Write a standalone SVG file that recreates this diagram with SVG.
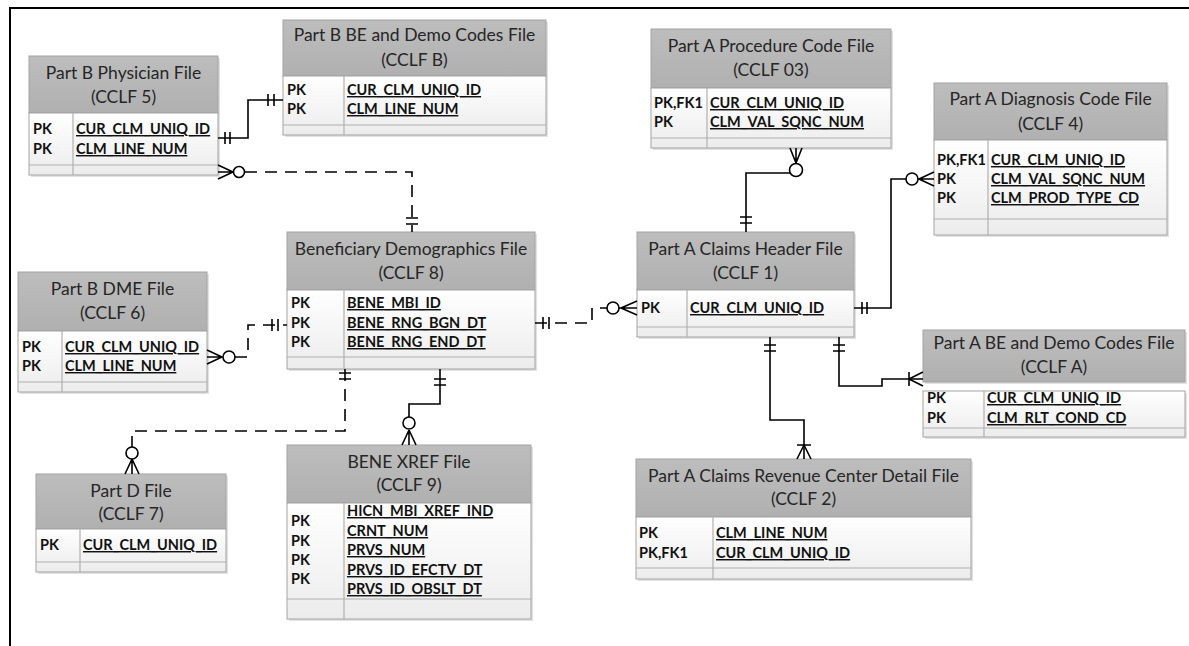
<svg xmlns="http://www.w3.org/2000/svg" width="1189" height="646" viewBox="0 0 1189 646">
<defs>
<linearGradient id="bg" x1="0" y1="0" x2="0" y2="1"><stop offset="0" stop-color="#ffffff"/><stop offset="1" stop-color="#ececec"/></linearGradient>
<linearGradient id="hg" x1="0" y1="0" x2="0" y2="1"><stop offset="0" stop-color="#bdbdbd"/><stop offset="1" stop-color="#b0b0b0"/></linearGradient>
<style>
.sh{fill:#d4d4d4;opacity:.7}
.hd{fill:url(#hg);stroke:#a3a3a3;stroke-width:1}
.bd{fill:url(#bg);stroke:#a3a3a3;stroke-width:1}
.ln{stroke:#b0b0b0;stroke-width:1.2}
.t{font-family:Lato,"Liberation Sans",sans-serif;font-size:17.5px;fill:#262626;text-anchor:middle}
.k{font-family:Lato,"Liberation Sans",sans-serif;font-size:14.5px;font-weight:bold;fill:#111}
.a{font-family:Lato,"Liberation Sans",sans-serif;font-size:14.5px;font-weight:bold;fill:#111;text-decoration:underline}
.c{fill:none;stroke:#000;stroke-width:1.6}
.d{fill:none;stroke:#000;stroke-width:1.6;stroke-dasharray:12 8}
.o{fill:#fff;stroke:#000;stroke-width:1.6}
</style>
</defs>
<rect x="0" y="0" width="1189" height="646" fill="#fff"/>
<path d="M10 646 V8 H1189" fill="none" stroke="#000" stroke-width="2"/>

<g id="phys">
<rect class="sh" x="31" y="58" width="189" height="119"/>
<rect class="hd" x="29" y="56" width="189" height="57"/>
<rect class="bd" x="29" y="113" width="189" height="62"/>
<line class="ln" x1="29" y1="165" x2="218" y2="165"/><line class="ln" x1="73" y1="113" x2="73" y2="175"/>
<text class="t" x="123.5" y="79">Part B Physician File</text>
<text class="t" x="123.5" y="103">(CCLF 5)</text>
<text class="k" x="33" y="134">PK</text><text class="a" x="76" y="134">CUR_CLM_UNIQ_ID</text>
<text class="k" x="33" y="154">PK</text><text class="a" x="76" y="154">CLM_LINE_NUM</text>
</g>

<g id="bbe">
<rect class="sh" x="285" y="22" width="263" height="115"/>
<rect class="hd" x="283" y="20" width="263" height="56"/>
<rect class="bd" x="283" y="76" width="263" height="59"/>
<line class="ln" x1="283" y1="125" x2="546" y2="125"/><line class="ln" x1="344" y1="76" x2="344" y2="135"/>
<text class="t" x="414.5" y="41">Part B BE and Demo Codes File</text>
<text class="t" x="414.5" y="66">(CCLF B)</text>
<text class="k" x="287" y="95">PK</text><text class="a" x="347" y="95">CUR_CLM_UNIQ_ID</text>
<text class="k" x="287" y="114">PK</text><text class="a" x="347" y="114">CLM_LINE_NUM</text>
</g>

<g id="proc">
<rect class="sh" x="653" y="31" width="240" height="119"/>
<rect class="hd" x="651" y="29" width="240" height="59"/>
<rect class="bd" x="651" y="88" width="240" height="60"/>
<line class="ln" x1="651" y1="138" x2="891" y2="138"/><line class="ln" x1="707" y1="88" x2="707" y2="148"/>
<text class="t" x="771" y="52">Part A Procedure Code File</text>
<text class="t" x="771" y="76">(CCLF 03)</text>
<text class="k" x="654" y="108">PK,FK1</text><text class="a" x="710" y="108">CUR_CLM_UNIQ_ID</text>
<text class="k" x="654" y="127">PK</text><text class="a" x="710" y="127">CLM_VAL_SQNC_NUM</text>
</g>

<g id="diag">
<rect class="sh" x="936" y="85" width="233" height="152"/>
<rect class="hd" x="934" y="83" width="233" height="57"/>
<rect class="bd" x="934" y="140" width="233" height="95"/>
<line class="ln" x1="934" y1="219" x2="1167" y2="219"/><line class="ln" x1="988" y1="140" x2="988" y2="235"/>
<text class="t" x="1050.5" y="105">Part A Diagnosis Code File</text>
<text class="t" x="1050.5" y="130">(CCLF 4)</text>
<text class="k" x="937" y="165">PK,FK1</text><text class="a" x="991" y="165">CUR_CLM_UNIQ_ID</text>
<text class="k" x="937" y="184">PK</text><text class="a" x="991" y="184">CLM_VAL_SQNC_NUM</text>
<text class="k" x="937" y="203">PK</text><text class="a" x="991" y="203">CLM_PROD_TYPE_CD</text>
</g>

<g id="dme">
<rect class="sh" x="20" y="274" width="189" height="120"/>
<rect class="hd" x="18" y="272" width="189" height="59"/>
<rect class="bd" x="18" y="331" width="189" height="61"/>
<line class="ln" x1="18" y1="382" x2="207" y2="382"/><line class="ln" x1="62" y1="331" x2="62" y2="392"/>
<text class="t" x="112.5" y="295">Part B DME File</text>
<text class="t" x="112.5" y="319">(CCLF 6)</text>
<text class="k" x="22" y="352">PK</text><text class="a" x="65" y="352">CUR_CLM_UNIQ_ID</text>
<text class="k" x="22" y="371">PK</text><text class="a" x="65" y="371">CLM_LINE_NUM</text>
</g>

<g id="bene">
<rect class="sh" x="289" y="234" width="248" height="137"/>
<rect class="hd" x="287" y="232" width="248" height="58"/>
<rect class="bd" x="287" y="290" width="248" height="79"/>
<line class="ln" x1="287" y1="357" x2="535" y2="357"/><line class="ln" x1="344" y1="290" x2="344" y2="369"/>
<text class="t" x="411" y="255">Beneficiary Demographics File</text>
<text class="t" x="411" y="279">(CCLF 8)</text>
<text class="k" x="291" y="308">PK</text><text class="a" x="347" y="308">BENE_MBI_ID</text>
<text class="k" x="291" y="328">PK</text><text class="a" x="347" y="328">BENE_RNG_BGN_DT</text>
<text class="k" x="291" y="347">PK</text><text class="a" x="347" y="347">BENE_RNG_END_DT</text>
</g>

<g id="hdr">
<rect class="sh" x="639" y="234" width="217" height="105"/>
<rect class="hd" x="637" y="232" width="217" height="58"/>
<rect class="bd" x="637" y="290" width="217" height="47"/>
<line class="ln" x1="637" y1="327" x2="854" y2="327"/><line class="ln" x1="687" y1="290" x2="687" y2="337"/>
<text class="t" x="745.5" y="255">Part A Claims Header File</text>
<text class="t" x="745.5" y="279">(CCLF 1)</text>
<text class="k" x="641" y="313">PK</text><text class="a" x="690" y="313">CUR_CLM_UNIQ_ID</text>
</g>

<g id="pabe">
<rect class="sh" x="925" y="332" width="262" height="52"/>
<rect class="sh" x="925" y="393" width="262" height="46"/>
<rect class="hd" x="923" y="330" width="262" height="52"/>
<rect class="bd" x="923" y="391" width="262" height="46"/>
<line class="ln" x1="923" y1="428" x2="1185" y2="428"/><line class="ln" x1="984" y1="391" x2="984" y2="437"/>
<text class="t" x="1054" y="349">Part A BE and Demo Codes File</text>
<text class="t" x="1054" y="373">(CCLF A)</text>
<text class="k" x="927" y="403">PK</text><text class="a" x="987" y="403">CUR_CLM_UNIQ_ID</text>
<text class="k" x="927" y="423">PK</text><text class="a" x="987" y="423">CLM_RLT_COND_CD</text>
</g>

<g id="partd">
<rect class="sh" x="38" y="476" width="190" height="98"/>
<rect class="hd" x="36" y="474" width="190" height="55"/>
<rect class="bd" x="36" y="529" width="190" height="43"/>
<line class="ln" x1="36" y1="562" x2="226" y2="562"/><line class="ln" x1="80" y1="529" x2="80" y2="572"/>
<text class="t" x="131" y="497">Part D File</text>
<text class="t" x="131" y="520">(CCLF 7)</text>
<text class="k" x="40" y="550">PK</text><text class="a" x="83" y="550">CUR_CLM_UNIQ_ID</text>
</g>

<g id="xref">
<rect class="sh" x="289" y="447" width="244" height="174"/>
<rect class="hd" x="287" y="445" width="244" height="58"/>
<rect class="bd" x="287" y="503" width="244" height="116"/>
<line class="ln" x1="287" y1="599" x2="531" y2="599"/><line class="ln" x1="344" y1="503" x2="344" y2="619"/>
<text class="t" x="409" y="468">BENE XREF File</text>
<text class="t" x="409" y="491">(CCLF 9)</text>
<text class="a" x="347" y="516">HICN_MBI_XREF_IND</text>
<text class="k" x="291" y="526">PK</text><text class="a" x="347" y="536">CRNT_NUM</text>
<text class="k" x="291" y="546">PK</text><text class="a" x="347" y="555">PRVS_NUM</text>
<text class="k" x="291" y="565">PK</text><text class="a" x="347" y="575">PRVS_ID_EFCTV_DT</text>
<text class="k" x="291" y="584">PK</text><text class="a" x="347" y="594">PRVS_ID_OBSLT_DT</text>
</g>

<g id="rev">
<rect class="sh" x="638" y="461" width="335" height="120"/>
<rect class="hd" x="636" y="459" width="335" height="58"/>
<rect class="bd" x="636" y="517" width="335" height="62"/>
<line class="ln" x1="636" y1="568" x2="971" y2="568"/><line class="ln" x1="713" y1="517" x2="713" y2="579"/>
<text class="t" x="803.5" y="482">Part A Claims Revenue Center Detail File</text>
<text class="t" x="803.5" y="505">(CCLF 2)</text>
<text class="k" x="639" y="538">PK</text><text class="a" x="716" y="538">CLM_LINE_NUM</text>
<text class="k" x="639" y="558">PK,FK1</text><text class="a" x="716" y="558">CUR_CLM_UNIQ_ID</text>
</g>

<g id="connectors">
<path class="c" d="M218 138 H248 V100 H283"/>
<path class="c" d="M225 132 V144 M230 132 V144 M268 94 V106 M274 94 V106"/>
<path class="d" d="M245 172 H412 V232"/>
<path class="c" d="M218 165 L233 172 L218 179 M218 172 H233 M406 218 H418 M406 224 H418"/>
<circle class="o" cx="239" cy="172" r="5.5"/>
<path class="d" d="M235 357 H248 V325 H287"/>
<path class="c" d="M207 350 L222 357 L207 364 M207 357 H222 M272 319 V331 M278 319 V331"/>
<circle class="o" cx="229" cy="357" r="6"/>
<path class="d" d="M345 369 V431 H132 V447"/>
<path class="c" d="M339 373 H351 M339 379 H351 M132 459 L125 474 M132 459 L139 474 M132 459 V474"/>
<circle class="o" cx="132" cy="453" r="6"/>
<path class="c" d="M440 369 V404 H409 V417"/>
<path class="c" d="M434 379 H446 M434 385 H446 M409 430 L402 445 M409 430 L416 445 M409 430 V445"/>
<circle class="o" cx="409" cy="423" r="6"/>
<path class="d" d="M535 323 H592 V308 H607"/>
<path class="c" d="M543 317 V329 M549 317 V329 M621 308 L637 301 M621 308 L637 315 M619 308 H637"/>
<circle class="o" cx="613" cy="308" r="6"/>
<path class="c" d="M746 232 V173 H790"/>
<path class="c" d="M740 217 H752 M740 223 H752 M796 163 L790 148 M796 163 L802 148 M796 163 V148"/>
<circle class="o" cx="796" cy="170" r="6.5"/>
<path class="c" d="M854 308 H891 V179 H906"/>
<path class="c" d="M862 302 V314 M867 302 V314 M919 179 L934 172 M919 179 L934 186 M918 179 H934"/>
<circle class="o" cx="912" cy="179" r="6"/>
<path class="c" d="M770 337 V420 H804 V459"/>
<path class="c" d="M764 345 H776 M764 351 H776 M797 445 H811 M804 445 L797 459 M804 445 L811 459"/>
<path class="c" d="M839 337 V386 H882 V379 H923"/>
<path class="c" d="M833 345 H845 M833 351 H845 M909 372 V386 M909 379 L923 372 M909 379 L923 386"/>
</g>
</svg>
